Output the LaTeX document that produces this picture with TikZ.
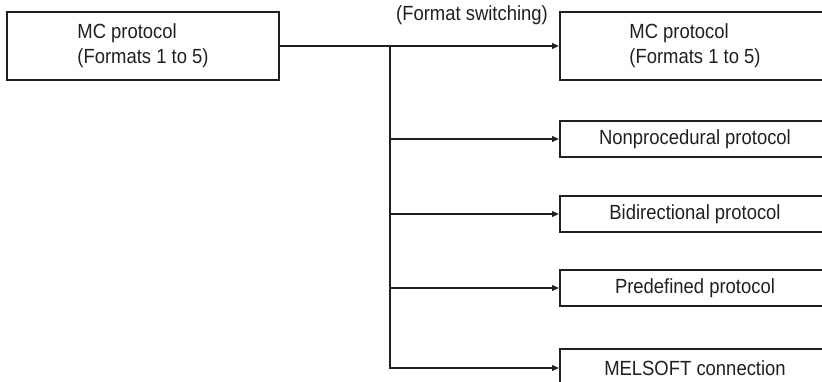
\documentclass[tikz,border=0pt]{standalone}
\usepackage{fontspec}
\setmainfont[FakeStretch=0.9]{Liberation Sans}
\usetikzlibrary{arrows.meta}
\definecolor{ink}{HTML}{231F20}
\begin{document}
\begin{tikzpicture}[x=1pt,y=-1pt,
  txt/.style={text=ink, font=\fontsize{20.5}{25}\selectfont},
  box/.style={draw=ink, line width=1.8pt, inner sep=0pt, txt, align=left, minimum width=270pt},
  conn/.style={draw=ink, line width=1.8pt, -{Triangle[length=7pt,width=5.5pt]}},
]
\clip (0,0) rectangle (822,381);
\node[box, minimum width=272pt, minimum height=68pt] (src) at (143,46) {MC protocol\\(Formats 1 to 5)};
\node[box, minimum height=68pt] (dst) at (695,46) {MC protocol\\(Formats 1 to 5)};
\node[box, minimum height=36pt] (np) at (695,139) {Nonprocedural protocol};
\node[box, minimum height=36pt] (bd) at (695,214) {Bidirectional protocol};
\node[box, minimum height=36pt] (pd) at (695,288) {Predefined protocol};
\node[box, minimum height=38pt] (ms) at (695,368) {MELSOFT connection};
\node[txt, anchor=base, inner sep=0pt] (fs) at (472,20) {(Format switching)};
\coordinate (j) at (390,46);
\draw[conn] (src.east) -- (dst.west);
\draw[conn] (j) |- (np.west);
\draw[conn] (j) |- (bd.west);
\draw[conn] (j) |- (pd.west);
\draw[conn] (j) |- (ms.west);
\end{tikzpicture}
\end{document}
